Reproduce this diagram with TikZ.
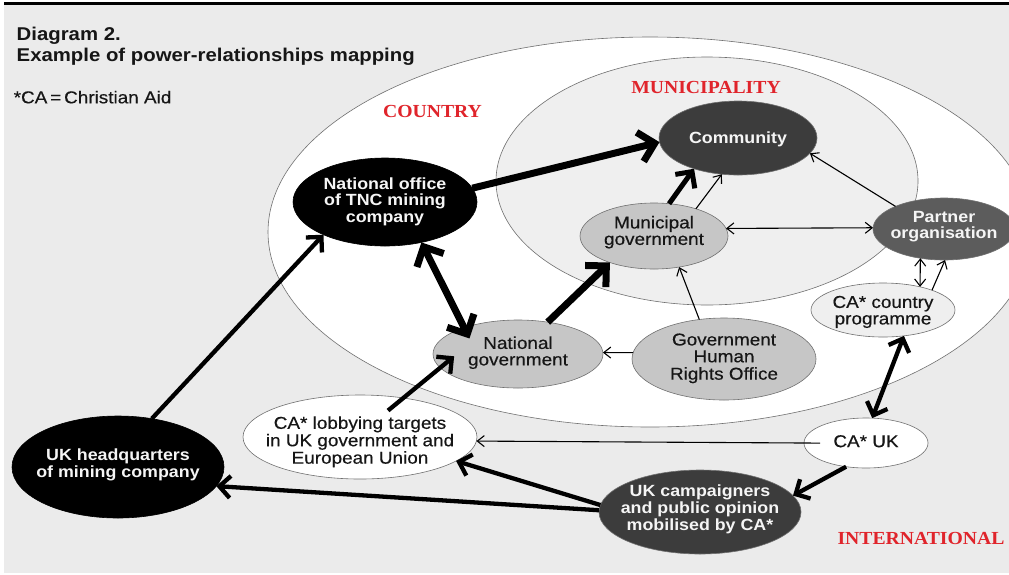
\documentclass[tikz,border=0pt]{standalone}
\usepackage{fontspec}
\setmainfont{Liberation Sans}
\newfontfamily\labelfont[FakeStretch=1.1]{Liberation Sans}
\newfontfamily\mediumfont[FakeStretch=1.1,FakeBold=0.4]{Liberation Sans}
\newfontfamily\regionfont[FakeStretch=1.07]{Liberation Serif}
\usetikzlibrary{arrows.meta,shapes.geometric}

\definecolor{paper}{HTML}{EBEBEB}
\definecolor{muni}{HTML}{EFEFEF}
\definecolor{lightnode}{HTML}{C6C6C6}
\definecolor{darknode}{HTML}{3C3C3C}
\definecolor{midnode}{HTML}{5C5C5C}
\definecolor{regionred}{HTML}{E0242B}
\definecolor{rim}{HTML}{707070}
\definecolor{ink}{HTML}{161616}
\definecolor{paleink}{HTML}{F5F5F5}

% multi-line label with zero footprint; #1 lifts the last baseline
\newcommand\nodetext[2]{\raisebox{#1pt}[0pt][0pt]{\makebox[0pt]{\begin{tabular}[b]{@{}c@{}}#2\end{tabular}}}}

\tikzset{
  zone/.style={ellipse, draw=rim, line width=0.6pt, inner sep=0pt, outer sep=0pt},
  place/.style={ellipse, draw=rim, line width=0.6pt, inner sep=0pt, outer sep=0pt,
                minimum width=#1},
  lightplace/.style={fill=lightnode, text=ink,
                     font=\mediumfont\fontsize{17.2pt}{16.5pt}\selectfont},
  paleplace/.style={fill=muni, text=ink,
                    font=\mediumfont\fontsize{17.2pt}{16.5pt}\selectfont},
  whiteplace/.style={fill=white, text=ink,
                     font=\mediumfont\fontsize{17.2pt}{16.5pt}\selectfont},
  darkplace/.style={fill=darknode, text=paleink,
                    font=\labelfont\bfseries\fontsize{16.2pt}{16.5pt}\selectfont},
  midplace/.style={fill=midnode, text=paleink,
                   font=\labelfont\bfseries\fontsize{16.2pt}{16.5pt}\selectfont},
  blackplace/.style={fill=black, draw=black, text=paleink,
                     font=\labelfont\bfseries\fontsize{16.2pt}{16.5pt}\selectfont},
  regionlabel/.style={anchor=base, inner sep=0pt, text=regionred,
                      font=\regionfont\bfseries\fontsize{18.4pt}{18.4pt}\selectfont},
  fat/.style={line width=7pt, -{Straight Barb[length=15pt,width=30pt]}},
  fatboth/.style={line width=7pt, {Straight Barb[length=15pt,width=30pt]}-{Straight Barb[length=15pt,width=30pt]}},
  heavy/.style={line width=5pt, -{Straight Barb[length=12pt,width=24pt]}},
  bold/.style={line width=4.3pt, -{Straight Barb[length=11pt,width=22pt]}},
  boldboth/.style={line width=4.3pt, {Straight Barb[length=11pt,width=22pt]}-{Straight Barb[length=11pt,width=22pt]}},
  fine/.style={line width=1.1pt, -{Straight Barb[length=7pt,width=11pt]}},
  fineboth/.style={line width=1.1pt, {Straight Barb[length=7pt,width=11pt]}-{Straight Barb[length=7pt,width=11pt]}},
}

\begin{document}
\begin{tikzpicture}[x=1pt,y=-1pt]
\useasboundingbox (0,0) rectangle (1009,574);
\clip (0,0) rectangle (1009,574);

% page frame
\fill[white] (0,0) rectangle (1009,574);
\fill[paper] (3.5,4.6) rectangle (1009,573);
\fill[black] (3.5,2.2) rectangle (1009,4.8);

% headings
\node[anchor=base west, inner sep=0pt, text=ink,
      font=\labelfont\bfseries\fontsize{18.5pt}{20pt}\selectfont] (heading) at (16.5,40.7) {Diagram 2.};
\node[anchor=base west, inner sep=0pt, text=ink,
      font=\labelfont\bfseries\fontsize{18.5pt}{20pt}\selectfont] (subheading) at (16.5,61.7) {Example of power-relationships mapping};
\node[anchor=base west, inner sep=0pt, text=ink,
      font=\mediumfont\fontsize{17.2pt}{18pt}\selectfont] (key) at (13.5,103.3) {*CA\,=\,Christian Aid};

% nested areas
\node[zone, fill=white, minimum width=764pt, minimum height=390pt] (country) at (650,232) {};
\node[zone, fill=muni, minimum width=422pt, minimum height=248pt] (municipality) at (707,181) {};

\node[regionlabel] (countrylabel) at (432.5,117.3) {COUNTRY};
\node[regionlabel] (municipalitylabel) at (706,93.3) {MUNICIPALITY};
\node[regionlabel] (internationallabel) at (921,544.3) {INTERNATIONAL};

% actors
\node[place=184pt, minimum height=88pt, blackplace] (natoff) at (385,202)
  {\nodetext{-20.3}{National office\\of TNC mining\\company}};
\node[place=158pt, minimum height=74pt, darkplace] (comm) at (738,138)
  {\nodetext{-5.8}{Community}};
\node[place=148pt, minimum height=66pt, lightplace] (munigov) at (654,236)
  {\nodetext{-8.9}{Municipal\\government}};
\node[place=142pt, minimum height=62pt, midplace] (partner) at (944,229)
  {\nodetext{-9.75}{Partner\\organisation}};
\node[place=144pt, minimum height=54pt, paleplace] (caprog) at (883,310)
  {\nodetext{-14.4}{CA* country\\programme}};
\node[place=170pt, minimum height=68pt, lightplace] (natgov) at (518,354)
  {\nodetext{-11.4}{National\\government}};
\node[place=184pt, minimum height=82pt, lightplace] (hro) at (724,359)
  {\nodetext{-20.65}{Government\\Human\\Rights Office}};
\node[place=234pt, minimum height=84pt, whiteplace] (lobby) at (360,437)
  {\nodetext{-26.65}{CA* lobbying targets\\in UK government and\\European Union}};
\node[place=124pt, minimum height=50pt, whiteplace] (cauk) at (866,443)
  {\nodetext{-4.15}{CA* UK}};
\node[place=202pt, minimum height=84pt, darkplace] (ukcamp) at (700,512)
  {\nodetext{-18.3}{UK campaigners\\and public opinion\\mobilised by CA*}};
\node[place=212pt, minimum height=102pt, blackplace] (ukhq) at (118,467)
  {\nodetext{-10.05}{UK headquarters\\of mining company}};

% relationships
\draw[fat] (natoff.9) -- (comm.183);
\draw[heavy] (munigov.65) -- (comm.215);
\draw[fine] (munigov.33) -- (comm.246);
\draw[fine] (partner.155) -- (comm.-12);
\draw[fineboth] (munigov.6) -- (partner.179);
\draw[fineboth] (partner.231) -- (caprog.32);
\draw[fine] (caprog.22) -- (partner.-88);
\draw[boldboth] (caprog.-51) -- (cauk.76);
\draw[bold] (cauk.230) -- (ukcamp.10.5);
\draw[fine, shorten <=-16pt] (cauk.180) -- (lobby.-2);
\draw[bold] (ukcamp.176) -- (lobby.-14.6);
\draw[bold] (ukcamp.179) -- (ukhq.-11);
\draw[bold] (ukhq.55) -- (natoff.208);
\draw[fatboth, shorten >=-12pt] (natoff.-48.5) -- (natgov.154);
\draw[fat] (natgov.47) -- (munigov.211);
\draw[fine] (hro.122) -- (munigov.-51);
\draw[fine] (hro.176) -- (natgov.1);
\draw[bold, shorten <=-19.8pt, shorten >=-18pt] (lobby.42.6) -- (natgov.190.3);
\end{tikzpicture}
\end{document}
